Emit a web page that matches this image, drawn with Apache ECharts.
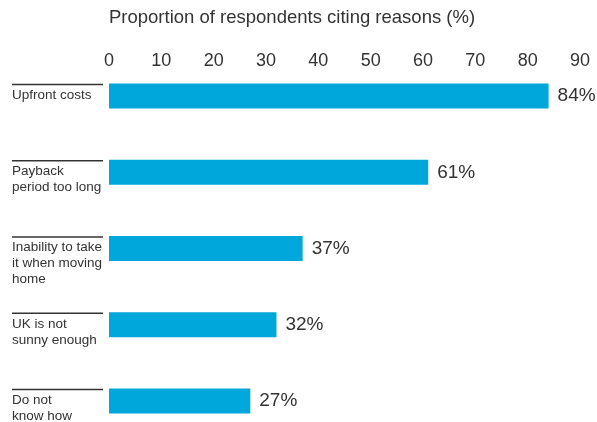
<!DOCTYPE html>
<html lang="en">
<head>
<meta charset="UTF-8">
<title>Reasons</title>
<script src="https://cdn.jsdelivr.net/npm/echarts@6/dist/echarts.min.js"></script>
<style>
  html, body { margin: 0; padding: 0; background: #fff; }
  #main { width: 597px; height: 422px; }
</style>
</head>
<body>
<div id="main"></div>
<script>
// data
var categories = [
  'Upfront costs',
  'Payback\nperiod too long',
  'Inability to take\nit when moving\nhome',
  'UK is not\nsunny enough',
  'Do not\nknow how'
];
var values = [84, 61, 37, 32, 27];
var ticks = [0, 10, 20, 30, 40, 50, 60, 70, 80, 90];

var font = "'Liberation Sans', Arial, Helvetica, sans-serif";
var chart = echarts.init(document.getElementById('main'));

// category label: spacer, rule above, then up to 3 lines of text
function catLabel(v) {
  var lines = v.split('\n');
  while (lines.length < 3) lines.push(' ');
  var s = '{sp| }\n{rule| }\n{gap| }';
  lines.forEach(function (l) { s += '\n{t|' + l + '}'; });
  return s;
}

var option = {
  animation: false,
  title: {
    text: 'Proportion of respondents citing reasons (%)',
    left: 109,
    top: 8,
    padding: 0,
    textStyle: { fontFamily: font, fontSize: 18.5, fontWeight: 'normal', color: '#333' }
  },
  grid: { left: 109, right: 17, top: 58, bottom: -17, outerBoundsMode: 'none', containLabel: false },
  xAxis: {
    type: 'value',
    position: 'top',
    min: 0,
    max: 90,
    interval: 10,
    axisLine: { show: false },
    axisTick: { show: false },
    splitLine: { show: false },
    axisLabel: {
      margin: -12,
      fontFamily: font,
      fontSize: 18,
      color: '#333',
      formatter: function (v) { return ticks.indexOf(v) >= 0 ? String(v) : ''; }
    }
  },
  yAxis: {
    type: 'category',
    inverse: true,
    data: categories,
    axisLine: { show: false },
    axisTick: { show: false },
    axisLabel: {
      interval: 0,
      margin: 97,
      align: 'left',
      verticalAlign: 'middle',
      formatter: catLabel,
      rich: {
        sp: { height: 27, lineHeight: 27, fontSize: 1 },
        rule: { width: 91, height: 1.5, lineHeight: 1.5, fontSize: 1, backgroundColor: '#333' },
        gap: { height: 2, lineHeight: 2, fontSize: 1 },
        t: { fontFamily: font, fontSize: 13.5, lineHeight: 16, color: '#333' }
      }
    }
  },
  series: [{
    type: 'bar',
    data: values,
    barWidth: 25,
    itemStyle: { color: '#00a7da' },
    label: {
      show: true,
      position: 'right',
      distance: 9,
      formatter: '{c}%',
      fontFamily: font,
      fontSize: 19,
      color: '#333'
    }
  }]
};
chart.setOption(option);
</script>
</body>
</html>
